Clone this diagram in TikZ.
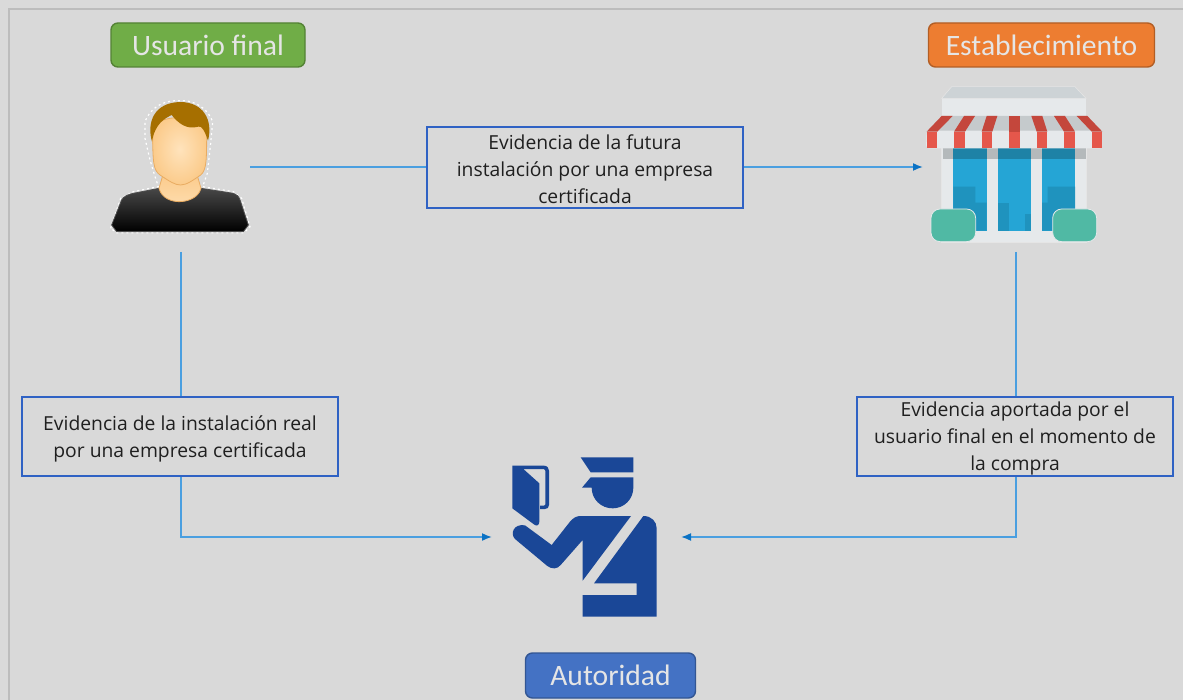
\documentclass[tikz,border=0pt]{standalone}
\usepackage{fontspec}
\setmainfont{Open Sans}
\newfontfamily\badgefont{Carlito}
\usetikzlibrary{arrows.meta}
\newcommand{\firstlinestrut}{\rule{0pt}{19pt}}
\definecolor{bgc}{HTML}{D9D9D9}
\definecolor{framec}{HTML}{BDBDBD}
\definecolor{linkc}{HTML}{4A9FE0}
\definecolor{tipc}{HTML}{0B72C4}
\definecolor{boxc}{HTML}{2F62C4}
\definecolor{offc}{HTML}{1A4797}
\definecolor{wallc}{HTML}{E6E9EB}
\definecolor{roofc}{HTML}{CDD3D6}
\definecolor{awnc}{HTML}{C5CACC}
\definecolor{redl}{HTML}{E5574B}
\definecolor{redd}{HTML}{C4473C}
\definecolor{glass}{HTML}{25A5D5}
\definecolor{glassd}{HTML}{1F93BE}
\definecolor{bandc}{HTML}{B4B9BB}
\definecolor{bandg}{HTML}{1E82A6}
\definecolor{bushc}{HTML}{50B9A4}
\definecolor{hairc}{HTML}{A66F00}
\definecolor{skinc}{HTML}{FBCB8B}
\definecolor{skinl}{HTML}{FFE3BC}
\definecolor{skind}{HTML}{E9AC62}
\definecolor{gbadge}{HTML}{70AD47}
\definecolor{obadge}{HTML}{ED7D31}
\definecolor{bbadge}{HTML}{4472C4}
\tikzset{
  badge/.style={draw=#1!75!black,fill=#1,line width=1.4pt,rounded corners=7pt,inner sep=0pt,
    text=white!90!black,font=\badgefont\fontsize{29.6}{32}\selectfont},
  evbox/.style={draw=boxc,fill=bgc,line width=1.5pt,inner sep=0pt,minimum width=316pt,
    align=center,text=black!88,font=\fontsize{19.3}{27}\selectfont},
  link/.style={draw=linkc,line width=1.6pt},
  arrowlink/.style={link,-{Latex[length=10pt,width=8pt,color=tipc]}},
  zoomed/.style={x=0.33333pt,y=-0.33333pt}
}
\begin{document}
\begin{tikzpicture}[x=1pt,y=-1pt]
\useasboundingbox (0,0) rectangle (1183,700);
\fill[bgc!98!white] (0,0) rectangle (1183,700);
\fill[bgc] (9,9) rectangle (1183,700);
\draw[framec,line width=1.4pt] (9,700) -- (9,9) -- (1183,9);

% person
\begin{scope}[shift={(90,10)},zoomed]
  \draw[white,line width=1.2pt,dash pattern=on 2pt off 3pt]
    (62,655) -- (92,565) -- (130,545) -- (205,530) -- (192,490) -- (180,450) -- (165,385) -- (165,335)
    .. controls (185,285) and (230,270) .. (270,272)
    .. controls (320,270) and (355,300) .. (368,335) -- (362,400) -- (352,490) -- (338,530) -- (430,545) -- (455,565) -- (480,650) -- (462,668) -- (80,668) -- cycle;
  \path[top color=black!72,bottom color=black,draw=black!70,line width=.8pt]
    (65,645) -- (95,570) .. controls (100,558) and (120,552) .. (130,550) -- (207,535) -- (333,535) -- (430,550)
    .. controls (440,552) and (447,560) .. (450,570) -- (475,645) -- (460,665) -- (80,665) -- cycle;
  \path[top color=skinc,bottom color=skinl!60!skinc,draw=skind,line width=.8pt]
    (220,490) -- (320,490) -- (333,535) .. controls (325,565) and (290,575) .. (268,575)
    .. controls (245,575) and (215,565) .. (207,535) -- cycle;
  \path[inner color=skinl,outer color=skinc,draw=skind,line width=.8pt]
    (188,360) .. controls (188,460) and (190,480) .. (210,495)
    .. controls (240,515) and (255,525) .. (272,525)
    .. controls (290,525) and (310,510) .. (332,495)
    .. controls (350,480) and (350,450) .. (350,360)
    .. controls (350,310) and (190,310) .. (188,360) -- cycle;
  \fill[hairc] (186,395) .. controls (170,340) and (190,278) .. (270,276)
    .. controls (340,276) and (370,330) .. (354,392)
    .. controls (345,365) and (335,345) .. (325,350)
    .. controls (290,360) and (265,340) .. (245,315)
    .. controls (225,325) and (195,340) .. (186,395) -- cycle;
\end{scope}

% shop
\begin{scope}[shift={(900,10)},zoomed]
  \fill[wallc] (125,265) rectangle (558,320);
  \fill[roofc,draw=white!90!black,line width=.6pt] (155,230) -- (525,230) -- (558,265) -- (125,265) -- cycle;
  \fill[wallc,draw=white!90!black,line width=.6pt] (125,415) rectangle (558,697);
  \fill[bandc] (128,415) rectangle (558,448);
  \foreach \a/\b in {160/260,293/392,426/525}{
    \fill[glass] (\a,448) rectangle (\b,662);
    \fill[bandg] (\a,415) rectangle (\b,448);
  }
  \fill[glassd] (160,530) -- (226,530) -- (226,578) -- (260,578) -- (260,662) -- (160,662) -- cycle;
  \fill[glassd] (293,578) rectangle (327,662);
  \fill[glassd] (375,612) rectangle (392,662);
  \fill[glassd] (443,530) -- (525,530) -- (525,662) -- (426,662) -- (426,578) -- (443,578) -- cycle;
  \fill[awnc] (125,318) -- (562,318) -- (605,365) -- (80,365) -- cycle;
  \fill[wallc,rounded corners=3pt] (80,362) -- (605,362) -- (607,415) -- (78,415) -- cycle;
  \foreach \ta/\tb/\ba/\bb in {125/158/80/112,192/225/162/195,260/292/245/277,327/360/327/360,394/427/410/442,462/495/492/525,530/562/575/607}{
    \fill[redd] (\ta,318) -- (\tb,318) -- (\bb,365) -- (\ba,365) -- cycle;
    \fill[redl] (\ba,365) rectangle (\bb,415);
  }
  \fill[bushc,draw=wallc,line width=.8pt,rounded corners=9pt] (93,597) rectangle (227,695);
  \fill[bushc,draw=wallc,line width=.8pt,rounded corners=9pt] (458,597) rectangle (590,695);
\end{scope}

% officer
\begin{scope}[shift={(470,440)},zoomed,offc]
  \fill (332,52) -- (490,52) -- (490,97) -- (362,97) -- cycle;
  \fill (362,112) -- (490,112) -- (490,143)
    .. controls (490,178) and (462,205) .. (428,205)
    .. controls (393,205) and (365,178) .. (365,143) -- (336,143) -- cycle;
  \fill (127,77) -- (222,77) .. controls (232,77) and (237,85) .. (237,92) -- (237,195)
    .. controls (237,203) and (232,207) .. (225,207) -- (210,207) -- (210,197) -- (222,197) -- (226,194)
    -- (226,92) -- (222,87) -- (160,87) -- (208,130) -- (208,245)
    .. controls (208,255) and (200,260) .. (193,254) -- (127,205) -- cycle;
  \fill (135,297) .. controls (120,282) and (130,250) .. (165,256) -- (245,315) -- (300,245)
    .. controls (310,233) and (320,228) .. (332,228) -- (483,228) -- (338,422) -- (338,300) -- (272,375)
    .. controls (262,388) and (245,388) .. (232,378) -- cycle;
  \fill (372,430) -- (520,228) .. controls (545,228) and (560,245) .. (560,265) -- (560,530) -- (338,530) -- (338,465) -- (500,465) -- (500,430) -- cycle;
\end{scope}

% badges
\node[badge=gbadge,minimum width=194pt,minimum height=44pt] (usuario) at (208,45) {Usuario final};
\node[badge=obadge,minimum width=226pt,minimum height=44pt] (estab) at (1041.5,45) {Establecimiento};
\node[badge=bbadge,minimum width=170pt,minimum height=45pt] (autoridad) at (610.5,675.5) {Autoridad};

% evidence boxes
\node[evbox,minimum height=81pt] (futura) at (585,167.5) {\firstlinestrut Evidencia de la futura\\instalación por una empresa\\certificada};
\node[evbox,minimum height=79pt] (real) at (180,436.5) {\firstlinestrut Evidencia de la instalación real\\por una empresa certificada};
\node[evbox,minimum height=79pt] (aportada) at (1015,436.5) {\firstlinestrut Evidencia aportada por el\\usuario final en el momento de\\la compra};

% connector ends
\coordinate (userR) at (250,167);
\coordinate (shopL) at (923,167);
\coordinate (userB) at (181,252);
\coordinate (shopB) at (1016,252);
\coordinate (authL) at (492,537);
\coordinate (authR) at (681,537);

\draw[link] (userR) -- (userR -| futura.west);
\draw[arrowlink] (userR -| futura.east) -- (shopL);
\draw[link] (userB) -- (userB |- real.north);
\draw[arrowlink] (userB |- real.south) |- (authL);
\draw[link] (shopB) -- (shopB |- aportada.north);
\draw[arrowlink] (shopB |- aportada.south) |- (authR);
\end{tikzpicture}
\end{document}
